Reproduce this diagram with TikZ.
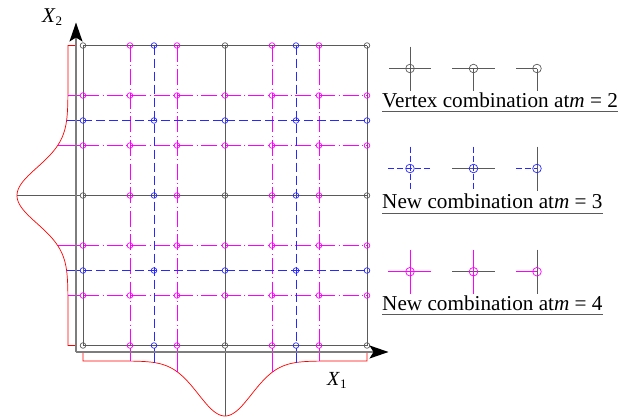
\documentclass[tikz,border=0pt]{standalone}
\usepackage{fontspec}
\setmainfont{Liberation Serif}
\usetikzlibrary{arrows.meta}
\definecolor{gr}{RGB}{90,90,90}
\definecolor{ax}{RGB}{125,125,125}
\definecolor{mg}{RGB}{255,0,255}
\definecolor{bl}{RGB}{40,40,255}
\begin{document}
\begin{tikzpicture}[x=1pt,y=-1pt,
  blk/.style={draw=gr, line width=0.9pt},
  blu/.style={draw=bl, line width=0.9pt, dash pattern=on 9pt off 4pt},
  bluleg/.style={draw=bl, line width=0.9pt, dash pattern=on 6pt off 3pt},
  mag/.style={draw=mg, line width=0.9pt, dash pattern=on 16pt off 3.5pt on 0.6pt off 3.5pt},
  magleg/.style={draw=mg, line width=0.9pt},
  proj/.style={line width=0.8pt},
  gauss/.style={draw=red, line width=0.7pt},
  axis/.style={draw=ax, line width=1.4pt, -{Stealth[black,length=19pt,width=13pt,inset=4pt]}},
  pt/.style={line width=0.7pt},
  legtext/.style={anchor=base west, inner sep=0pt, font=\fontsize{21.2}{23}\selectfont},
  uline/.style={draw=gr, line width=0.9pt}
]
\useasboundingbox (0,0) rectangle (633,418);

% magenta grid lines
\foreach \x in {130,177,272,319} \draw[mag] (\x,45.5) -- (\x,345.5);
\foreach \y in {95.5,145.5,245.5,295.5} \draw[mag] (83,\y) -- (367,\y);
% blue grid lines
\foreach \x in {154,296} \draw[blu] (\x,45.5) -- (\x,345.5);
\foreach \y in {120.5,270.5} \draw[blu] (83,\y) -- (367,\y);
% black grid lines
\foreach \x in {83,225,367} \draw[blk] (\x,45.5) -- (\x,345.5);
\foreach \y in {45.5,195.5,345.5} \draw[blk] (83,\y) -- (367,\y);

% points
\foreach \x in {83,225,367} \foreach \y in {45.5,195.5,345.5} \draw[pt,gr] (\x,\y) circle[radius=2.8pt];
\foreach \x in {154,296} \foreach \y in {45.5,120.5,195.5,270.5,345.5} \draw[pt,bl] (\x,\y) circle[radius=2.8pt];
\foreach \x in {83,225,367} \foreach \y in {120.5,270.5} \draw[pt,bl] (\x,\y) circle[radius=2.8pt];
\foreach \x in {130,177,272,319} \foreach \y in {45.5,95.5,145.5,195.5,245.5,295.5,345.5} \draw[pt,mg] (\x,\y) circle[radius=2.8pt];
\foreach \x in {83,225,367} \foreach \y in {95.5,145.5,245.5,295.5} \draw[pt,mg] (\x,\y) circle[radius=2.8pt];

% gaussians
\draw[gauss] (83,352) -- (83,361) -- plot[domain=83:367, samples=160] (\x,{361+55*exp(-0.5*((\x-225)/26.5)^2)}) -- (367,352);
\draw[gauss] (76,45.5) -- (68,45.5) -- plot[domain=45.5:345.5, samples=160, variable=\t] ({68-51*exp(-0.5*((\t-195.5)/28)^2)},\t) -- (76,345.5);

% projection lines
\foreach \x/\c in {130/mg,177/mg,272/mg,319/mg,154/bl,296/bl,225/gr}
  \draw[proj,\c] (\x,348.3) -- (\x,{361+55*exp(-0.5*((\x-225)/26.5)^2)});
\foreach \y/\c in {95.5/mg,145.5/mg,245.5/mg,295.5/mg,120.5/bl,270.5/bl,195.5/gr}
  \draw[proj,\c] (80.2,\y) -- ({68-51*exp(-0.5*((\y-195.5)/28)^2)},\y);

% axes
\coordinate (O) at (76,352);
\coordinate (Ytip) at (76,22.5);
\coordinate (Xtip) at (388.5,352);
\draw[axis] (O) -- (Ytip);
\draw[axis] (O) -- (Xtip);
\node[anchor=base west, inner sep=0pt, font=\fontsize{21}{22}\selectfont] (x2lab) at (42,22) {\textit{X}\raisebox{-3pt}{\fontsize{13}{14}\selectfont 2}};
\node[anchor=base west, inner sep=0pt, font=\fontsize{20}{22}\selectfont] (x1lab) at (327,385) {\textit{X}\raisebox{-3pt}{\fontsize{13}{14}\selectfont 1}};

% legend row 1
\draw[blk] (389,68.5) -- (431,68.5); \draw[blk] (410,46.5) -- (410,90.5);
\draw[pt,gr] (410,68.5) circle[radius=4.3pt];
\draw[blk] (452,68.5) -- (495,68.5); \draw[blk] (473.5,68.5) -- (473.5,90.5);
\draw[pt,gr] (473.5,68.5) circle[radius=4.3pt];
\draw[blk] (516,68.5) -- (537,68.5); \draw[blk] (537,68.5) -- (537,90.5);
\draw[pt,gr] (537,68.5) circle[radius=4.3pt];
\node[legtext] (t1) at (382,107) {Vertex combination at\textit{m} = 2};
\draw[uline] ([yshift=-4.7pt]t1.base west) -- ([yshift=-4.7pt]t1.base east);

% legend row 2
\draw[bluleg] (388,168.5) -- (431,168.5); \draw[bluleg] (410,146.5) -- (410,190.5);
\draw[pt,bl] (410,168.5) circle[radius=4.3pt];
\draw[blk] (452,168.5) -- (495,168.5); \draw[bluleg] (473.5,146.5) -- (473.5,190.5);
\draw[pt,bl] (473.5,168.5) circle[radius=4.3pt];
\draw[bluleg] (516,168.5) -- (537,168.5); \draw[blk] (537,146.5) -- (537,190.5);
\draw[pt,bl] (537,168.5) circle[radius=4.3pt];
\node[legtext] (t2) at (382,208.3) {New combination at\textit{m} = 3};
\draw[uline] ([yshift=-4.7pt]t2.base west) -- ([yshift=-4.7pt]t2.base east);

% legend row 3
\draw[magleg] (388,271.7) -- (431,271.7); \draw[magleg] (410,249.5) -- (410,293.5);
\draw[pt,mg] (410,271.7) circle[radius=4.3pt];
\draw[blk] (452,271.7) -- (495,271.7); \draw[magleg] (473.5,249.5) -- (473.5,293.5);
\draw[pt,mg] (473.5,271.7) circle[radius=4.3pt];
\draw[magleg] (516,271.7) -- (537,271.7); \draw[blk] (537,249.5) -- (537,293.5);
\draw[pt,mg] (537,271.7) circle[radius=4.3pt];
\node[legtext] (t3) at (382,310) {New combination at\textit{m} = 4};
\draw[uline] ([yshift=-4.7pt]t3.base west) -- ([yshift=-4.7pt]t3.base east);
\end{tikzpicture}
\end{document}
